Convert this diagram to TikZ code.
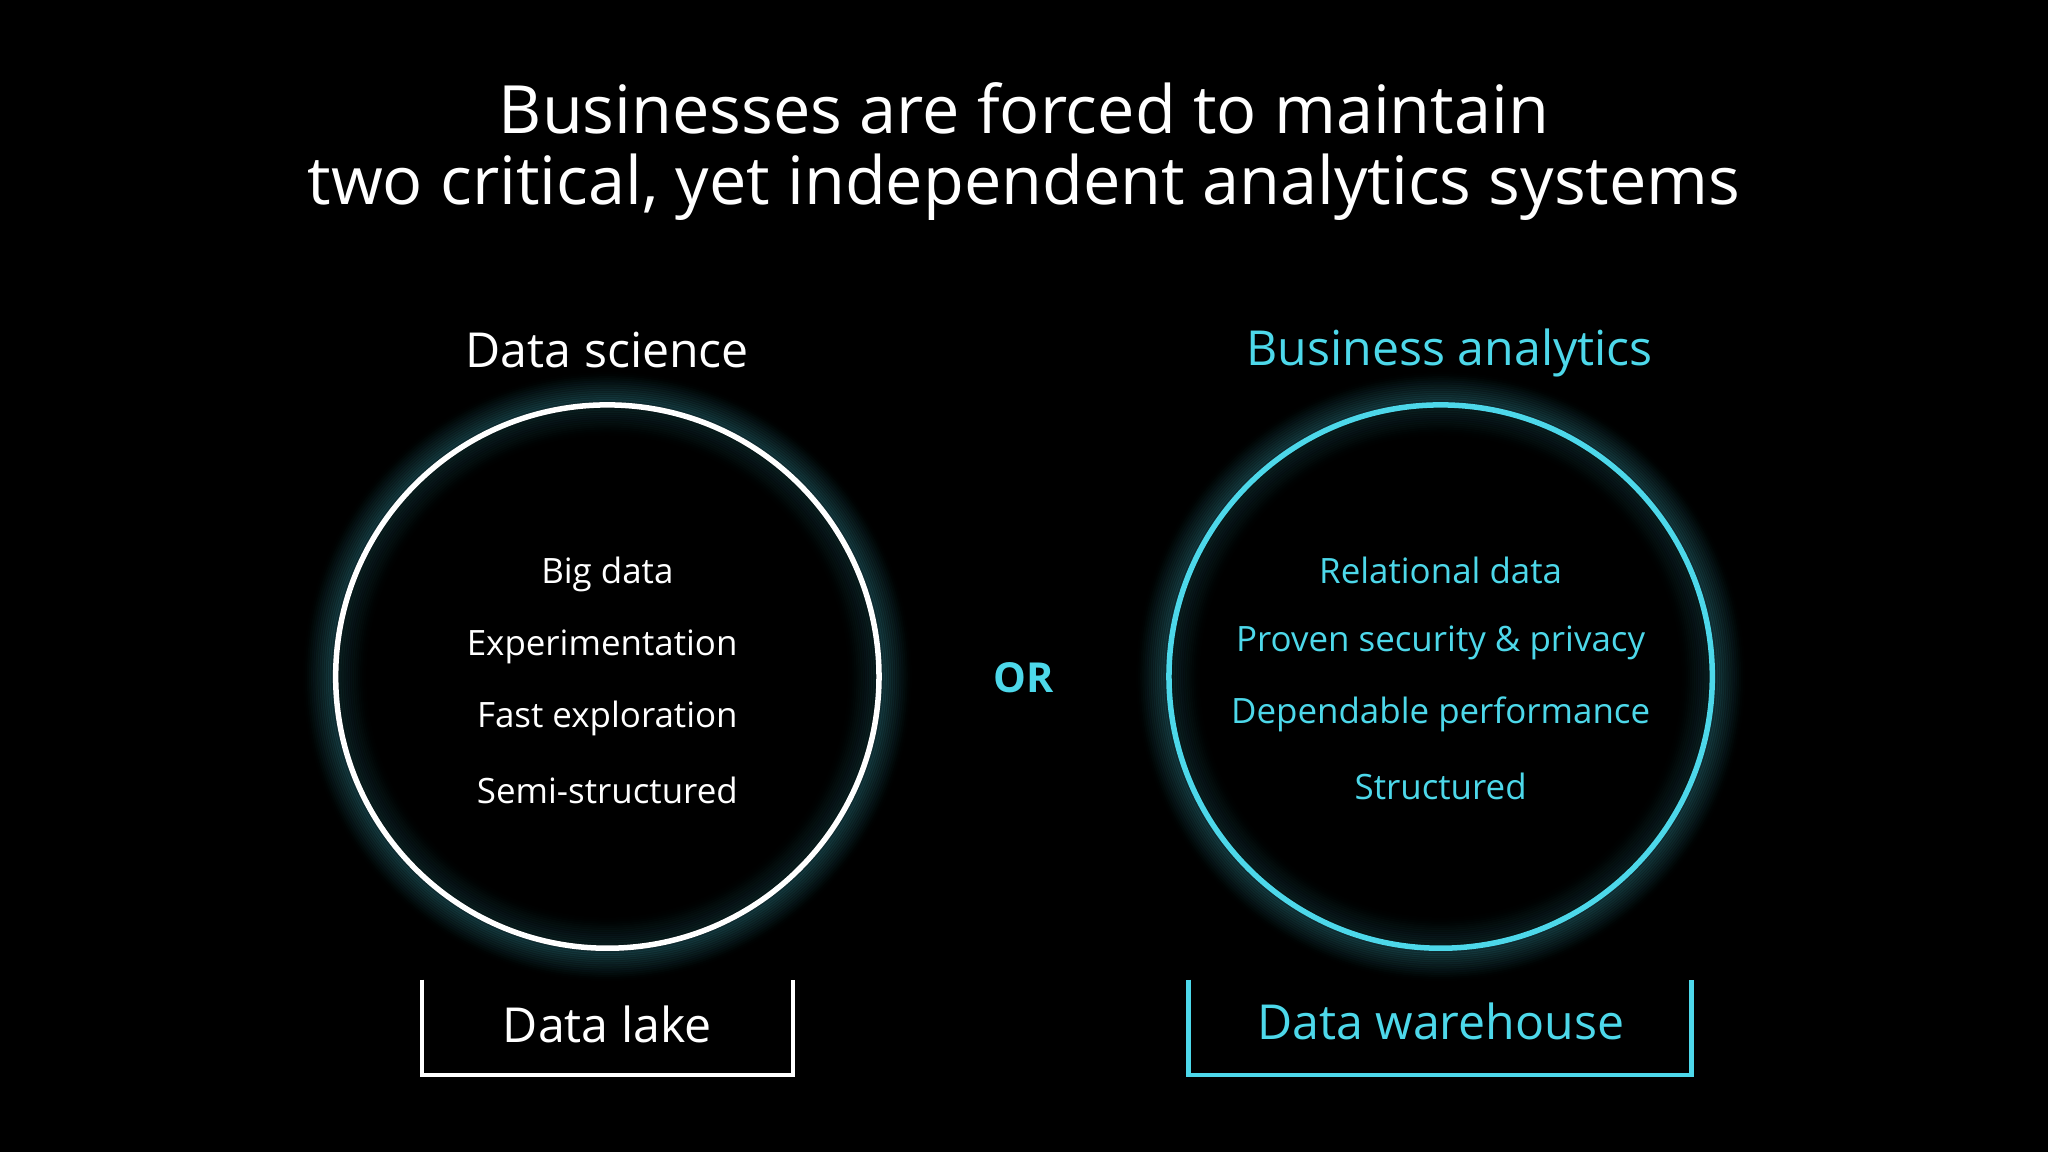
\documentclass[tikz,border=0pt]{standalone}
\usepackage{fontspec}
\setmainfont{Open Sans}
\definecolor{cy}{HTML}{4DD8EA}
\begin{document}
\begin{tikzpicture}[x=0.01cm,y=-0.01cm,
  title/.style={text=white,font=\fontsize{14.5pt}{17pt}\selectfont},
  head/.style={font=\fontsize{10.5pt}{12pt}\selectfont},
  item/.style={font=\fontsize{7.6pt}{9pt}\selectfont},
  lab/.style={font=\fontsize{10.5pt}{12pt}\selectfont}]
\fill[black] (0,0) rectangle (1568,882);
\useasboundingbox (0,0) rectangle (1568,882);
\node[title] (t1) at (784,83) {Businesses are forced to maintain};
\node[title] (t2) at (784,143) {two critical, yet independent analytics systems};
\node[head,text=white] (h1) at (465,268) {Data science};
\node[head,text=cy,anchor=base] (h2) at (1110,280) {Business analytics};
\foreach \cx in {465,1103}{
  \foreach \i in {1,...,14}{
    \pgfmathsetmacro\op{0.09*(1-\i/15)}
    \draw[cy,line width=1.6pt,opacity=\op] (\cx,518) circle ({208+1.6*\i});
    \draw[cy,line width=1.6pt,opacity=\op*0.5] (\cx,518) circle ({208-1.6*\i});
  }
}
\node[circle,draw=white,line width=1.2pt,minimum size=416*0.01cm,inner sep=0] (c1) at (465,518) {};
\node[circle,draw=cy,line width=1.2pt,minimum size=416*0.01cm,inner sep=0] (c2) at (1103,518) {};
\node[item,text=white] (l1) at (465,440) {Big data};
\node[item,text=white] (l2) at (461,495) {Experimentation};
\node[item,text=white] (l3) at (465,550) {Fast exploration};
\node[item,text=white] (l4) at (465,605) {Semi-structured};
\node[item,text=cy] (r1) at (1103,437) {Relational data};
\node[item,text=cy] (r2) at (1103,492) {Proven security \& privacy};
\node[item,text=cy] (r3) at (1103,547) {Dependable performance};
\node[item,text=cy] (r4) at (1103,602) {Structured};
\node[item,text=cy,font=\bfseries\fontsize{9pt}{10pt}\selectfont] (or) at (784,519) {OR};
\draw[white,line width=1pt] (323,750) -- (323,823) -- (607,823) -- (607,750);
\draw[cy,line width=1pt] (910,750) -- (910,823) -- (1295,823) -- (1295,750);
\node[lab,text=white] (b1) at (465,784) {Data lake};
\node[lab,text=cy] (b2) at (1103,782) {Data warehouse};
\end{tikzpicture}
\end{document}
